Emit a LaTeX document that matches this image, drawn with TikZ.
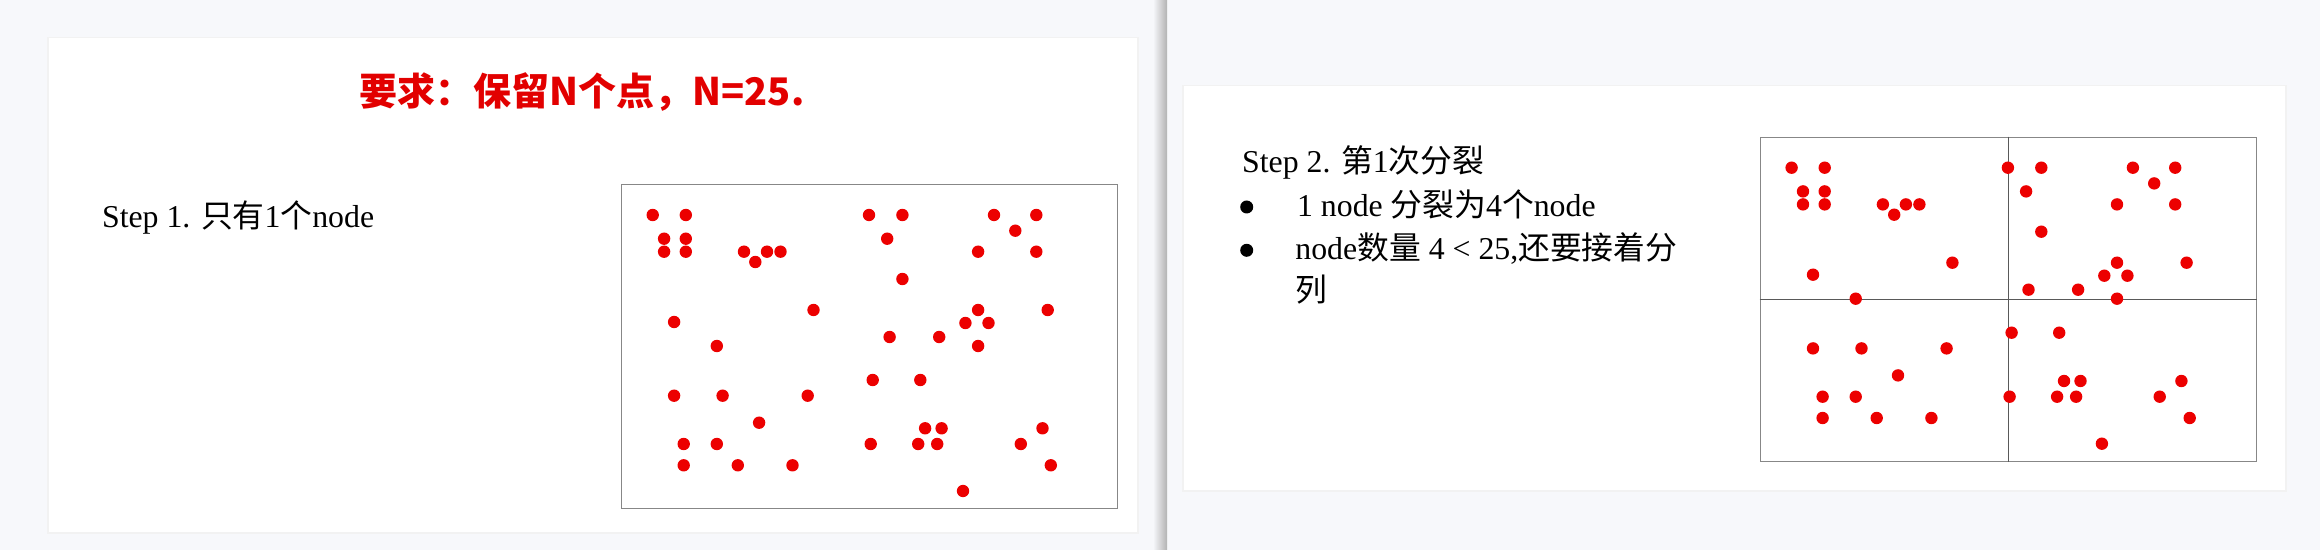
\documentclass[tikz,border=0pt]{standalone}
\usepackage{fontspec}
\setmainfont{Liberation Serif}
\newfontfamily\cjk{Noto Sans CJK SC}
\usetikzlibrary{positioning}

\definecolor{pagebg}{RGB}{247,248,251}
\definecolor{dotred}{RGB}{236,0,0}
\definecolor{titlered}{RGB}{226,0,0}
\definecolor{framegray}{RGB}{135,135,135}

% sample points, relative to the top left corner of a plot box
\newcommand{\pointlist}{32/31, 65.1/31, 43.4/54.7, 65.1/54.7, 43.4/67.7, 65.1/67.7,
  123.3/67.7, 134.6/78, 146.3/67.7, 159.8/67.7, 248.3/31, 281.7/31, 266.5/54.7,
  281.7/95, 373.3/31, 415.6/31, 394.6/46.7, 357.4/67.7, 415.6/67.7, 192.8/126,
  53.4/138, 96.1/162, 357.4/126, 427/126, 344.7/139, 367.8/139, 268.9/153,
  318.5/153, 357.4/162, 252/196, 299.6/196, 53.4/211.7, 101.9/211.7, 187/211.7,
  138.4/238.7, 304.4/244.3, 320.9/244.3, 421.8/244.3, 63/260, 96.1/260, 250/260,
  297.5/260, 316.5/260, 400.1/260, 63/281.3, 117.1/281.3, 171.8/281.3,
  430.1/281.3, 342.3/307}

\begin{document}
\begin{tikzpicture}[x=0.5pt,y=-0.5pt,
    card/.style={fill=white,draw=black!5,line width=0.6pt},
    plotbox/.style={draw=framegray,line width=0.75pt,minimum width=248pt,
      minimum height=162pt,inner sep=0pt,anchor=north west},
    sample/.style={fill=dotred},
    txt/.style={anchor=base west,inner sep=0pt,font=\fontsize{15.9}{19}\selectfont},
    bullet/.style={circle,fill=black,inner sep=0pt,minimum size=6.5pt}]
\useasboundingbox (0,0) rectangle (2320,550);
\fill[pagebg] (0,0) rectangle (2320,550);

% divider between the two slides
\shade[left color=pagebg,right color=black!30] (1153,0) rectangle (1167,550);

% slide 1
\draw[card] (48,37.5) rectangle (1138,533);
\node[text=titlered,font=\fontsize{19}{22}\selectfont\cjk\bfseries] (title) at (582,92)
  {要求：保留N个点，N=25.};
\node[txt] (step1) at (101.7,227.5) {Step 1. {\cjk 只有}1{\cjk 个}node};
\node[plotbox] (box1) at (620.7,184) {};

% slide 2
\draw[card] (1183,85.7) rectangle (2286,491);
\node[txt] (step2) at (1241.7,172.7) {Step 2. {\cjk 第}1{\cjk 次分裂}};
\node[bullet] (b1) at (1246.7,207) {};
\node[txt] (item1) at (1296.7,216.5) {1 node {\cjk 分裂为}4{\cjk 个}node};
\node[bullet] (b2) at (1246.7,250.3) {};
\node[txt] (item2) at (1295,259.5) {node{\cjk 数量} 4 < 25,{\cjk 还要接着分}};
\node[txt] (item2b) at (1295,302) {{\cjk 列}};
\node[plotbox] (box2) at (1759.6,136.7) {};
\draw[black!65,line width=0.75pt] (box2.north) -- (box2.south);
\draw[black!65,line width=0.75pt] (box2.west) -- (box2.east);

% points in both boxes
\foreach \b in {box1,box2} {
  \begin{scope}[shift={(\b.north west)}]
    \foreach \x/\y in \pointlist {
      \fill[sample] (\x,\y) circle (3.1pt);
    }
  \end{scope}
}
\end{tikzpicture}
\end{document}
